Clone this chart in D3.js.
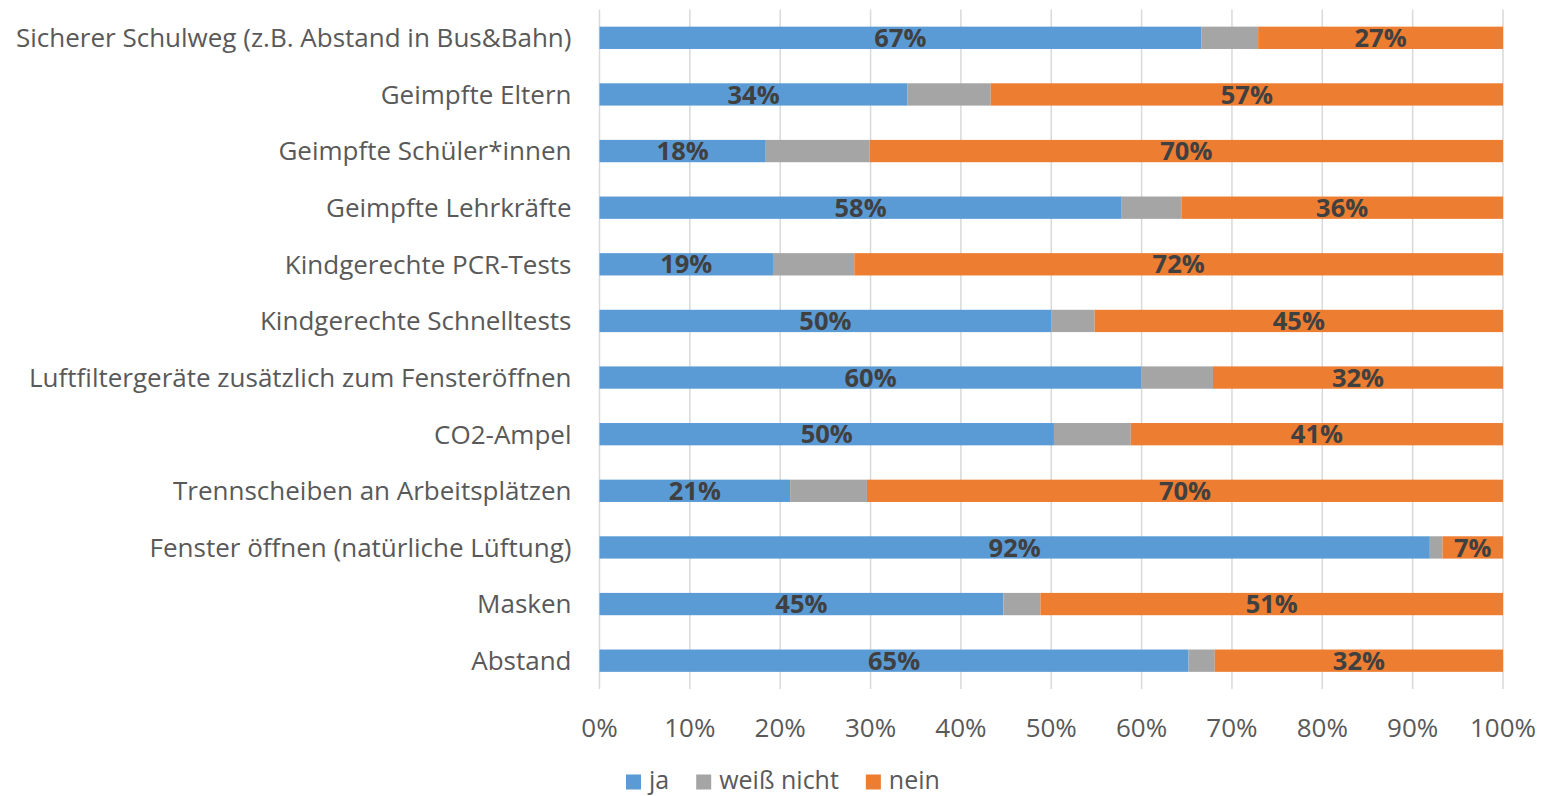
<!DOCTYPE html>
<html>
<head>
<meta charset="utf-8">
<script src="https://cdn.jsdelivr.net/npm/d3@7"></script>
<style>
  html, body { margin: 0; padding: 0; background: #fff; }
  svg { display: block; }
</style>
</head>
<body>
<svg id="chart" width="1549" height="796"></svg>
<script>
const categories = [
  "Sicherer Schulweg (z.B. Abstand in Bus&Bahn)",
  "Geimpfte Eltern",
  "Geimpfte Schüler*innen",
  "Geimpfte Lehrkräfte",
  "Kindgerechte PCR-Tests",
  "Kindgerechte Schnelltests",
  "Luftfiltergeräte zusätzlich zum Fensteröffnen",
  "CO2-Ampel",
  "Trennscheiben an Arbeitsplätzen",
  "Fenster öffnen (natürliche Lüftung)",
  "Masken",
  "Abstand"
];
const ja         = [66.6, 34.1, 18.4, 57.8, 19.2, 50.0, 60.0, 50.3, 21.1, 91.9, 44.7, 65.2];
const weissNicht = [ 6.3,  9.2, 11.5,  6.6,  9.0,  4.8,  7.9,  8.5,  8.5,  1.4,  4.1,  2.9];
const nein       = [27.1, 56.7, 70.1, 35.6, 71.8, 45.2, 32.1, 41.2, 70.4,  6.7, 51.2, 31.9];
const seriesNames = ["ja", "weiß nicht", "nein"];
const seriesColors = ["#5B9BD5", "#A5A5A5", "#ED7D31"];
const showLabel = [true, false, true];
const xTicks = [0, 10, 20, 30, 40, 50, 60, 70, 80, 90, 100];

(function () {
const svg = d3.select("#chart");
const pLeft = 599.5, pRight = 1503, pTop = 9.5, pBottom = 689;
const textFont = "'Open Sans', 'Noto Sans', sans-serif";

const x = d3.scaleLinear().domain([0, 100]).range([pLeft, pRight]);
const y = d3.scaleBand().domain(categories).range([pTop, pBottom])
  .paddingInner(0.606).paddingOuter(0.303);

// gridlines
svg.append("g").selectAll("line").data(xTicks).join("line")
  .attr("x1", d => x(d)).attr("x2", d => x(d))
  .attr("y1", pTop).attr("y2", pBottom)
  .attr("stroke", "#D9D9D9").attr("stroke-width", 1.5);

// stacked data
const rows = categories.map((c, i) => ({cat: c, vals: [ja[i], weissNicht[i], nein[i]]}));
const segs = [];
rows.forEach(r => {
  let acc = 0;
  r.vals.forEach((v, s) => {
    segs.push({cat: r.cat, s, x0: acc, x1: acc + v, v});
    acc += v;
  });
});

svg.append("g").selectAll("rect").data(segs).join("rect")
  .attr("x", d => x(d.x0))
  .attr("width", d => x(d.x1) - x(d.x0))
  .attr("y", d => y(d.cat))
  .attr("height", y.bandwidth())
  .attr("fill", d => seriesColors[d.s]);

// data labels
svg.append("g").selectAll("text").data(segs.filter(d => showLabel[d.s])).join("text")
  .attr("x", d => (x(d.x0) + x(d.x1)) / 2)
  .attr("y", d => y(d.cat) + y.bandwidth() / 2)
  .attr("dy", "0.36em")
  .attr("text-anchor", "middle")
  .attr("font-family", textFont)
  .attr("font-weight", "bold")
  .attr("font-size", 25.5)
  .attr("fill", "#404040")
  .text(d => Math.round(d.v) + "%");

// category labels
svg.append("g").selectAll("text").data(categories).join("text")
  .attr("x", pLeft - 28)
  .attr("y", d => y(d) + y.bandwidth() / 2)
  .attr("dy", "0.36em")
  .attr("text-anchor", "end")
  .attr("font-family", textFont)
  .attr("font-size", 26)
  .attr("fill", "#595959")
  .text(d => d);

// x tick labels
svg.append("g").selectAll("text").data(xTicks).join("text")
  .attr("x", d => x(d))
  .attr("y", 728)
  .attr("dy", "0.36em")
  .attr("text-anchor", "middle")
  .attr("font-family", textFont)
  .attr("font-size", 26)
  .attr("fill", "#595959")
  .text(d => d + "%");

// legend
const legend = svg.append("g").attr("transform", "translate(626,782)");
let lx = 0;
seriesNames.forEach((name, i) => {
  const g = legend.append("g").attr("transform", `translate(${lx},0)`);
  g.append("rect").attr("x", 0).attr("y", -7.5).attr("width", 15).attr("height", 15)
    .attr("fill", seriesColors[i]);
  const t = g.append("text").attr("x", 23).attr("y", 7)
    .attr("font-family", textFont).attr("font-size", 25).attr("fill", "#595959")
    .text(name);
  lx += 23 + t.node().getComputedTextLength() + 27;
});
})();
</script>
</body>
</html>
